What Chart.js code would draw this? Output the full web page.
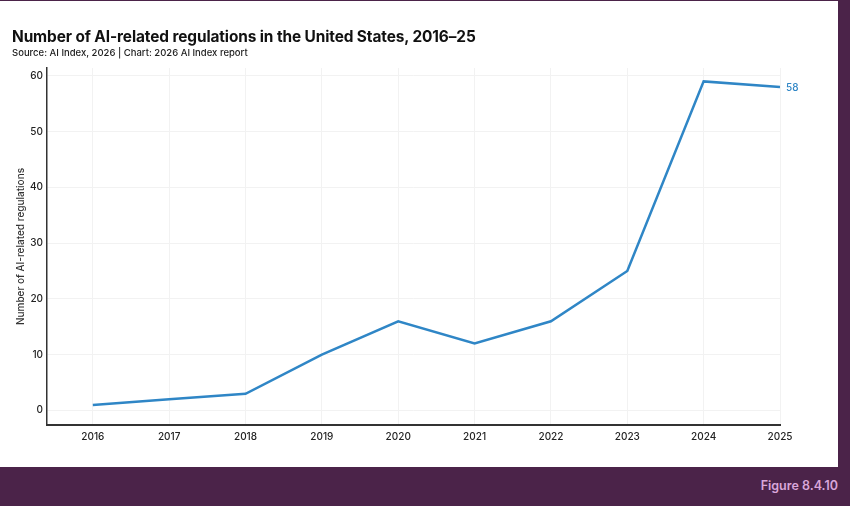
<!DOCTYPE html>
<html>
<head>
<meta charset="utf-8">
<script src="https://cdn.jsdelivr.net/npm/chart.js@4.4.1/dist/chart.umd.min.js"></script>
<style>
  html, body { margin: 0; padding: 0; }
  body { width: 850px; height: 506px; background: #4b2349; position: relative; overflow: hidden; font-family: Inter, "Liberation Sans", sans-serif; }
  #card { position: absolute; left: 0; top: 1px; width: 838px; height: 466px; background: #ffffff; }
  #wrap { position: absolute; left: 0; top: 0; width: 838px; height: 466px; }
  #title { position: absolute; left: 12px; top: 26px; font-size: 15.4px; font-weight: 700; color: #111; white-space: nowrap; letter-spacing: -0.1px; }
  #sub { position: absolute; left: 12px; top: 46px; font-size: 9.5px; font-weight: 500; color: #222; white-space: nowrap; }
  #fig { position: absolute; right: 12px; top: 478px; font-size: 12.5px; font-weight: 600; color: #d9a6d9; white-space: nowrap; }
</style>
</head>
<body>
<div id="card">
  <div id="wrap"><canvas id="c"></canvas></div>
  <div id="title">Number of AI-related regulations in the United States, 2016–25</div>
  <div id="sub">Source: AI Index, 2026 | Chart: 2026 AI Index report</div>
</div>
<div id="fig">Figure 8.4.10</div>
<script>
const years = [2016, 2017, 2018, 2019, 2020, 2021, 2022, 2023, 2024, 2025];
const regulations = [1, 2, 3, 10, 16, 12, 16, 25, 59, 58];
const yTicks = [0, 10, 20, 30, 40, 50, 60];
const yAxisTitle = 'Number of AI-related regulations';
const lineColor = '#2f86c6';

const endLabel = {
  id: 'endLabel',
  afterDatasetsDraw(chart) {
    const meta = chart.getDatasetMeta(0);
    const last = meta.data[meta.data.length - 1];
    const ctx = chart.ctx;
    ctx.save();
    ctx.font = '500 10px Inter, "Liberation Sans", sans-serif';
    ctx.fillStyle = lineColor;
    ctx.textAlign = 'left';
    ctx.textBaseline = 'middle';
    ctx.fillText(String(regulations[regulations.length - 1]), last.x + 6, last.y + 1);
    ctx.restore();
  }
};

new Chart(document.getElementById('c'), {
  type: 'line',
  data: {
    datasets: [{
      data: years.map((y, i) => ({ x: y, y: regulations[i] })),
      borderColor: lineColor,
      borderWidth: 2.5,
      pointRadius: 0,
      tension: 0,
      fill: false
    }]
  },
  options: {
    responsive: true,
    maintainAspectRatio: false,
    animation: false,
    layout: { padding: { left: 0, top: 67, right: 58, bottom: 0 } },
    plugins: { legend: { display: false }, tooltip: { enabled: false } },
    scales: {
      x: {
        type: 'linear',
        min: 2015.4,
        max: 2025,
        afterBuildTicks: s => { s.ticks = years.map(v => ({ value: v })); },
        afterFit: s => { s.height = 42; },
        grid: { color: '#f2f2f2', lineWidth: 1, drawTicks: false },
        border: { display: true, color: '#333', width: 2 },
        ticks: {
          padding: 6,
          color: '#222',
          font: { family: 'Inter, "Liberation Sans", sans-serif', size: 10, weight: 500 },
          callback: v => String(v),
          maxRotation: 0,
          autoSkip: false
        }
      },
      y: {
        min: -2.6,
        max: 61.4,
        afterBuildTicks: s => { s.ticks = yTicks.map(v => ({ value: v })); },
        afterFit: s => { s.width = 47; },
        grid: { color: '#f2f2f2', lineWidth: 1, drawTicks: false },
        border: { display: true, color: '#333', width: 1.5 },
        title: {
          display: true,
          text: yAxisTitle,
          color: '#333',
          padding: { top: 15, bottom: 0 },
          font: { family: 'Inter, "Liberation Sans", sans-serif', size: 10, weight: 500 }
        },
        ticks: {
          padding: 4,
          color: '#222',
          font: { family: 'Inter, "Liberation Sans", sans-serif', size: 10, weight: 500 }
        }
      }
    }
  },
  plugins: [endLabel]
});
</script>
</body>
</html>
